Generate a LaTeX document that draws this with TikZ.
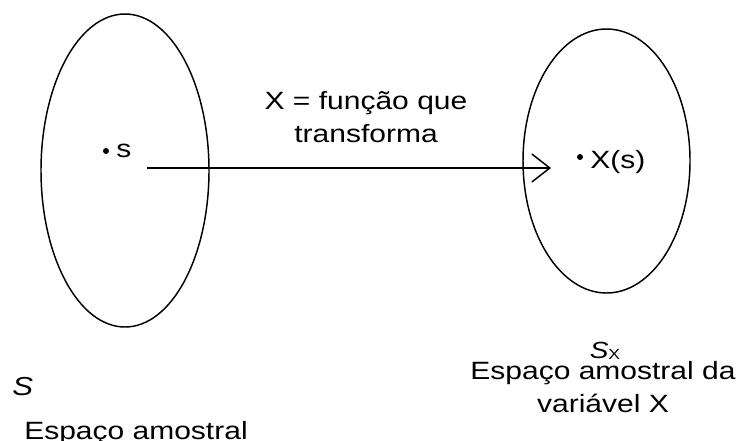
\documentclass[tikz,border=0pt]{standalone}
\usepackage{fontspec}
\setmainfont{Liberation Sans}[FakeStretch=1.2,
  ItalicFeatures={FakeStretch=1.2}]
\usetikzlibrary{shapes.geometric,arrows.meta,positioning}
\tikzset{
  setshape/.style = {ellipse, draw=black, line width=1.1pt, inner sep=0pt},
  ptdot/.style    = {circle, fill=black, inner sep=0pt, minimum size=4.5pt},
  lbl/.style      = {inner sep=0pt, anchor=base,
                     font=\fontsize{18.75}{24.2}\selectfont},
  setname/.style  = {inner sep=0pt, anchor=base,
                     font=\fontsize{17.5}{18}\selectfont\itshape},
  maparr/.style   = {-{Straight Barb[length=13.5pt, width=21pt, line width=1.1pt]},
                     line width=1.1pt, draw=black},
}
\begin{document}
\begin{tikzpicture}[x=0.75pt, y=-0.75pt]
\useasboundingbox (0,0) rectangle (737,440);

%% Sample space S (left)
\node[setshape, minimum width=126pt, minimum height=234.75pt] (spS) at (125,170.5) {};
\node[ptdot] (dot_s) at (106,151) {};
\node[lbl, anchor=base west] (lbl_s) at (116,157) {s};
\node[setname, anchor=base west, font=\fontsize{19.5}{20}\selectfont\itshape]
                                        (name_S) at (12,395) {S};
\node[lbl] (desc_S) at (136,439) {Espaço amostral};

%% Sample space S_X (right)
\node[setshape, minimum width=125.25pt, minimum height=198pt] (spX) at (606.5,161) {};
\node[ptdot] (dot_X) at (580,157) {};
\node[lbl, anchor=base west] (lbl_X) at (590,168) {X(s)};
\node[setname] (name_X) at (605,358.5)
     {S\raisebox{-0.6pt}{\upshape\fontsize{11}{11}\selectfont X}};
\node[lbl, align=center] (desc_X) at (603,412) {Espaço amostral da\\variável X};

%% Mapping X
\coordinate (map_from) at (147,168);
\coordinate (map_to)   at (551,168);
\draw[maparr] (map_from) -- (map_to);
\node[lbl, align=center] (map_lbl) at (366,142) {X = função que\\transforma};

\end{tikzpicture}
\end{document}
